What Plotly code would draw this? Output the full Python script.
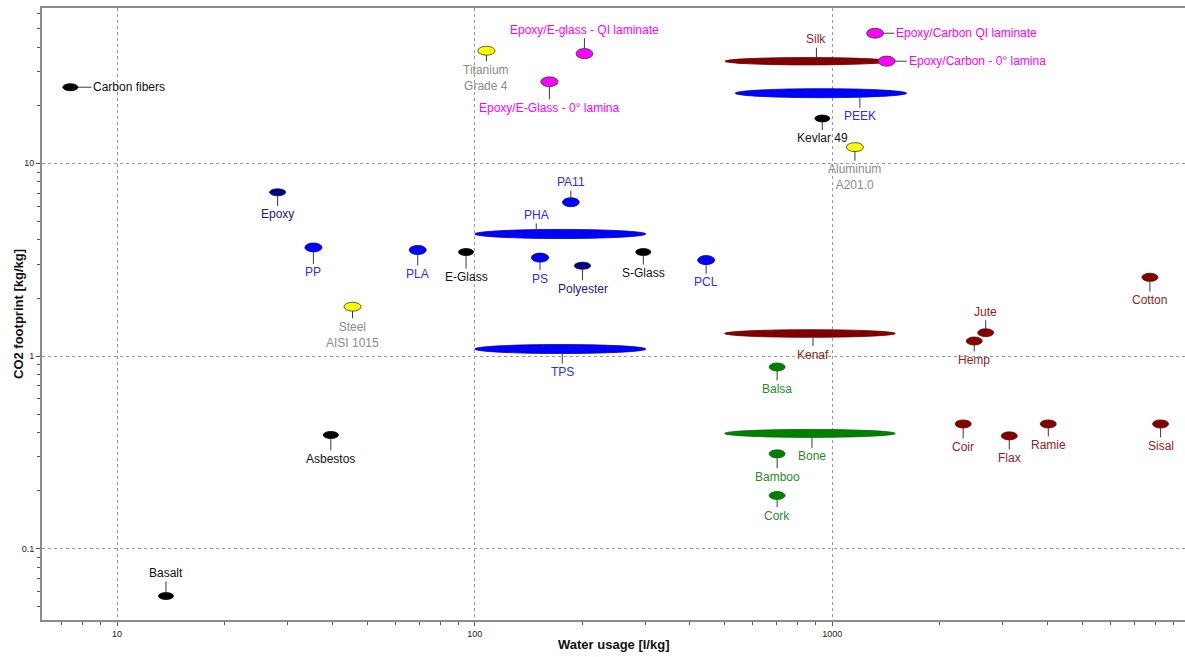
import numpy as np
import plotly.graph_objects as go

# ---------------- data ----------------
names = ["Carbon fibers", "Basalt", "Epoxy", "PP", "PLA", "E-Glass", "PS", "Polyester",
         "S-Glass", "PCL", "PA11", "PHA", "TPS", "Steel<br>AISI 1015", "Asbestos",
         "Titanium<br>Grade 4", "Epoxy/E-glass - QI laminate", "Epoxy/E-Glass - 0° lamina",
         "Silk", "Epoxy/Carbon QI laminate", "Epoxy/Carbon - 0° lamina", "PEEK",
         "Kevlar 49", "Aluminum<br>A201.0", "Kenaf", "Balsa", "Bone", "Bamboo", "Cork",
         "Jute", "Hemp", "Cotton", "Coir", "Flax", "Ramie", "Sisal"]

# water usage [l/kg]: low / high of the range
water_lo = [7.05, 13.05, 26.7, 33.5, 65.6, 90.1, 144, 190, 282, 420, 176, 100, 100, 43.1, 37.7,
            102, 192, 153, 501, 1247, 1343, 535, 894, 1095, 500, 666, 500, 666, 666,
            2550, 2369, 7342, 2206, 2969, 3816, 7864]
water_hi = [7.77, 14.38, 29.6, 37.4, 73.2, 99.3, 161, 211, 311, 469, 196, 301, 301, 48.1, 41.6,
            114, 214, 171, 1449, 1391, 1499, 1614, 984, 1222, 1500, 738, 1500, 738, 738,
            2827, 2626, 8139, 2446, 3291, 4231, 8718]

# CO2 footprint [kg/kg]: low / high of the range
co2_lo = [23.8, 0.0545, 6.78, 3.47, 3.36, 3.32, 3.07, 2.82, 3.32, 2.98, 5.95, 4.07, 1.03,
          1.71, 0.373, 36.4, 34.9, 25.0, 32.4, 44.6, 31.9, 21.9, 16.4, 11.5, 1.25, 0.836,
          0.378, 0.296, 0.180, 1.26, 1.14, 2.44, 0.423, 0.367, 0.423, 0.423]
co2_hi = [25.9, 0.0592, 7.37, 3.86, 3.75, 3.61, 3.42, 3.07, 3.61, 3.32, 6.63, 4.54, 1.147,
          1.90, 0.406, 40.5, 39.4, 28.1, 35.4, 50.2, 36.0, 24.4, 17.8, 12.8, 1.37, 0.920,
          0.416, 0.326, 0.198, 1.385, 1.255, 2.69, 0.466, 0.404, 0.466, 0.466]

groups = ["ceramic", "ceramic", "navy", "blue", "blue", "ceramic", "blue", "navy",
          "ceramic", "blue", "blue", "blue", "blue", "metal", "ceramic",
          "metal", "composite", "composite", "animal", "composite", "composite", "blue",
          "ceramic", "metal", "animal", "plant", "plant", "plant", "plant",
          "animal", "animal", "animal", "animal", "animal", "animal", "animal"]

x_title = "Water usage [l/kg]"
y_title = "CO2 footprint [kg/kg]"

# ---------------- styles ----------------
fill = {"ceramic": "#000000", "navy": "#000080", "blue": "#0000ff", "metal": "#ffff00",
        "composite": "#ff00ff", "animal": "#800000", "plant": "#008000"}
outline = {"ceramic": "#000000", "navy": "#000060", "blue": "#0000b0", "metal": "#333333",
           "composite": "#333333", "animal": "#700000", "plant": "#006400"}
txtcol = {"ceramic": "#111111", "navy": "#1a1a80", "blue": "#2b2bff", "metal": "#8c8c8c",
          "composite": "#ff00ff", "animal": "#8f1d24", "plant": "#2a8a2a"}

# label placement: (ax, ay, xshift) in pixels
label_pos = {
    "Carbon fibers": (21, 0, 0), "Basalt": (0, -23, 0), "Epoxy": (0, 22, 0), "PP": (0, 25, 0),
    "PLA": (0, 24, 0), "E-Glass": (0, 25, 0), "PS": (0, 21, 0), "Polyester": (0, 23, 0),
    "S-Glass": (0, 21, 0), "PCL": (0, 22, 0), "PA11": (0, -20, 0), "PHA": (0, -19, -24),
    "TPS": (0, 23, 2), "Steel<br>AISI 1015": (0, 28, 0), "Asbestos": (0, 24, 0),
    "Titanium<br>Grade 4": (0, 27, 0), "Epoxy/E-glass - QI laminate": (0, -24, 0),
    "Epoxy/E-Glass - 0° lamina": (0, 26, 0), "Silk": (0, -22, 9),
    "Epoxy/Carbon QI laminate": (19, 0, 0), "Epoxy/Carbon - 0° lamina": (20, 0, 0),
    "PEEK": (0, 23, 39), "Kevlar 49": (0, 20, 0), "Aluminum<br>A201.0": (0, 30, 0),
    "Kenaf": (0, 21, 3), "Balsa": (0, 22, 0), "Bone": (0, 23, 2), "Bamboo": (0, 23, 0),
    "Cork": (0, 20, 0), "Jute": (0, -21, 0), "Hemp": (0, 19, 0), "Cotton": (0, 23, 0),
    "Coir": (0, 23, 0), "Flax": (0, 22, 0), "Ramie": (0, 21, 0), "Sisal": (0, 22, 0)}

FONT = "Liberation Sans, Arial, sans-serif"
XR = [0.79, 3.9863]
YR = [-1.370, 1.806]
ML, MR, MT, MB = 42, 0, 8, 37
PLOT_W, PLOT_H = 1185 - ML - MR, 657 - MT - MB

water_c = [float(np.sqrt(a * b)) for a, b in zip(water_lo, water_hi)]
co2_c = [float(np.sqrt(a * b)) for a, b in zip(co2_lo, co2_hi)]

fig = go.Figure()
fig.add_trace(go.Scatter(x=water_c, y=co2_c, mode="markers",
                         text=[n.replace("<br>", " ") for n in names],
                         hoverinfo="text", marker=dict(size=14, opacity=0), showlegend=False))

shapes = []
annotations = []
wide = [i for i in range(len(names)) if water_hi[i] / water_lo[i] > 2]
order = wide + [i for i in range(len(names)) if i not in wide]
for i in order:
    n, g = names[i], groups[i]
    shapes.append(dict(type="circle", xref="x", yref="y",
                       x0=water_lo[i], x1=water_hi[i], y0=co2_lo[i], y1=co2_hi[i],
                       fillcolor=fill[g], line=dict(color=outline[g], width=0.8),
                       layer="above"))
    ax, ay, xs = label_pos[n]
    # half size of the ellipse in pixels (for the leader-line stand-off)
    half_w = np.log10(water_hi[i] / water_lo[i]) / (XR[1] - XR[0]) * PLOT_W / 2
    half_h = np.log10(co2_hi[i] / co2_lo[i]) / (YR[1] - YR[0]) * PLOT_H / 2
    if ax != 0:
        standoff, xanchor = half_w, "left"
    else:
        standoff, xanchor = half_h, "center"
    annotations.append(dict(x=np.log10(water_c[i]), y=np.log10(co2_c[i]), xref="x", yref="y",
                            text=n, showarrow=True, arrowhead=0, arrowwidth=1,
                            arrowcolor="#3a3a3a", ax=ax, ay=ay, standoff=standoff,
                            xshift=xs, xanchor=xanchor, yanchor="middle",
                            font=dict(family=FONT, size=12, color=txtcol[g]),
                            align="center"))

# axis titles
annotations.append(dict(text="<b>%s</b>" % y_title, xref="paper", yref="paper",
                        x=-(ML - 18) / PLOT_W, y=0.5, xanchor="center", yanchor="middle",
                        textangle=-90, showarrow=False,
                        font=dict(family=FONT, size=13, color="#111")))
annotations.append(dict(text="<b>%s</b>" % x_title, xref="paper", yref="paper",
                        x=(613 - ML) / PLOT_W, y=-(644 - (657 - MB)) / PLOT_H,
                        xanchor="center", yanchor="middle", showarrow=False,
                        font=dict(family=FONT, size=13, color="#111")))

minor_x = [m * 10 ** k for k in range(0, 4) for m in range(2, 10)]
minor_y = [m * 10 ** k for k in range(-2, 2) for m in range(2, 10)]

axis_common = dict(type="log", showline=True, linecolor="#8a8a8a", linewidth=2,
                   ticks="outside", ticklen=4, tickcolor="#555", tickwidth=1,
                   showgrid=True, gridcolor="#9a9a9a", griddash="dot", gridwidth=1,
                   zeroline=False, tickfont=dict(family=FONT, size=9, color="#222"))

fig.update_layout(
    width=1185, height=657,
    margin=dict(l=ML, r=MR, t=MT, b=MB, autoexpand=False),
    plot_bgcolor="white", paper_bgcolor="white",
    shapes=shapes, annotations=annotations,
    showlegend=False,
    xaxis=dict(**axis_common, range=XR, mirror=True,
               tickvals=[10, 100, 1000], ticktext=["10", "100", "1000"],
               minor=dict(tickvals=minor_x, ticks="outside", ticklen=3, tickcolor="#555", showgrid=False)),
    yaxis=dict(**axis_common, range=YR,
               tickvals=[0.1, 1, 10], ticktext=["0.1", "1", "10"],
               minor=dict(tickvals=minor_y, ticks="outside", ticklen=3, tickcolor="#555", showgrid=False)),
)

fig.write_html("out.html", config={"displayModeBar": False},
               post_script="document.body.style.margin='0px';document.body.style.overflow='hidden';")
